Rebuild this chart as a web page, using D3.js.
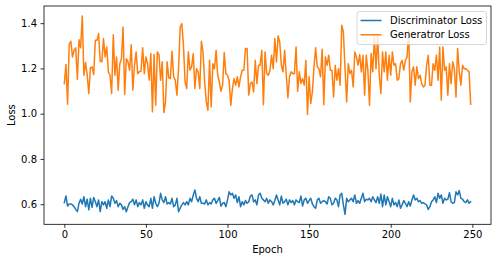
<!DOCTYPE html>
<html>
<head>
<meta charset="utf-8">
<script src="https://cdn.jsdelivr.net/npm/d3@7"></script>
<style>
  body { margin: 0; background: #fff; }
  svg { display: block; font-family: "DejaVu Sans", sans-serif; }
</style>
</head>
<body>
<svg id="chart" width="497" height="262"></svg>
<script>
// values, one per epoch (0..249)
var discLoss = [
    0.607, 0.636, 0.592, 0.601, 0.601, 0.597, 0.589, 0.577, 0.567, 0.604,
    0.622, 0.601, 0.633, 0.589, 0.622, 0.575, 0.626, 0.586, 0.630, 0.611,
    0.589, 0.619, 0.567, 0.611, 0.597, 0.611, 0.582, 0.619, 0.589, 0.636,
    0.626, 0.604, 0.616, 0.589, 0.604, 0.597, 0.577, 0.589, 0.567, 0.589,
    0.607, 0.611, 0.622, 0.597, 0.619, 0.589, 0.607, 0.597, 0.619, 0.582,
    0.611, 0.597, 0.589, 0.626, 0.582, 0.633, 0.604, 0.589, 0.604, 0.648,
    0.619, 0.607, 0.633, 0.601, 0.607, 0.601, 0.626, 0.589, 0.597, 0.626,
    0.567, 0.582, 0.597, 0.607, 0.597, 0.611, 0.597, 0.626, 0.611, 0.640,
    0.663, 0.626, 0.611, 0.633, 0.604, 0.604, 0.601, 0.619, 0.597, 0.607,
    0.601, 0.619, 0.626, 0.604, 0.616, 0.630, 0.592, 0.604, 0.607, 0.589,
    0.619, 0.655, 0.641, 0.648, 0.626, 0.641, 0.607, 0.633, 0.589, 0.611,
    0.597, 0.616, 0.604, 0.611, 0.636, 0.641, 0.611, 0.619, 0.597, 0.641,
    0.648, 0.626, 0.619, 0.611, 0.626, 0.604, 0.619, 0.611, 0.597, 0.616,
    0.641, 0.619, 0.597, 0.636, 0.604, 0.611, 0.622, 0.597, 0.619, 0.607,
    0.616, 0.597, 0.619, 0.611, 0.607, 0.636, 0.592, 0.619, 0.626, 0.604,
    0.616, 0.626, 0.601, 0.589, 0.582, 0.619, 0.626, 0.604, 0.611, 0.616,
    0.611, 0.601, 0.633, 0.626, 0.597, 0.604, 0.626, 0.619, 0.589, 0.641,
    0.648, 0.597, 0.555, 0.626, 0.611, 0.619, 0.626, 0.611, 0.641, 0.604,
    0.616, 0.604, 0.626, 0.648, 0.611, 0.622, 0.619, 0.626, 0.611, 0.633,
    0.619, 0.607, 0.633, 0.604, 0.645, 0.589, 0.641, 0.597, 0.633, 0.611,
    0.589, 0.626, 0.597, 0.607, 0.589, 0.619, 0.582, 0.597, 0.616, 0.604,
    0.589, 0.611, 0.592, 0.619, 0.641, 0.619, 0.626, 0.611, 0.616, 0.604,
    0.607, 0.601, 0.597, 0.577, 0.589, 0.611, 0.619, 0.633, 0.607, 0.648,
    0.626, 0.641, 0.604, 0.626, 0.619, 0.622, 0.651, 0.611, 0.604, 0.607,
    0.655, 0.641, 0.660, 0.626, 0.622, 0.611, 0.607, 0.619, 0.604, 0.611
];

var genLoss = [
    1.133, 1.217, 1.042, 1.305, 1.320, 1.251, 1.280, 1.291, 1.152, 1.327,
    1.291, 1.432, 1.170, 1.226, 1.173, 1.089, 1.202, 1.207, 1.173, 1.324,
    1.324, 1.354, 1.232, 1.229, 1.332, 1.251, 1.295, 1.185, 1.170, 1.089,
    1.349, 1.170, 1.251, 1.104, 1.221, 1.243, 1.383, 1.085, 1.243, 1.229,
    1.192, 1.305, 1.104, 1.214, 1.273, 1.177, 1.185, 1.188, 1.291, 1.177,
    1.251, 1.221, 1.148, 1.266, 1.008, 1.261, 1.037, 1.273, 1.261, 1.148,
    1.229, 1.005, 1.052, 1.229, 1.158, 1.155, 1.276, 1.163, 1.148, 1.082,
    1.199, 1.383, 1.398, 1.302, 1.140, 1.111, 1.273, 1.192, 1.207, 1.266,
    1.111, 1.199, 1.185, 1.111, 1.320, 1.273, 1.140, 1.052, 1.015, 1.236,
    1.030, 1.221, 1.199, 1.280, 1.170, 1.140, 1.099, 1.126, 1.270, 1.177,
    1.170, 1.148, 1.037, 1.111, 1.155, 1.126, 1.163, 1.118, 1.163, 1.192,
    1.192, 1.288, 1.288, 1.082, 1.133, 1.140, 1.096, 1.236, 1.133, 1.214,
    1.214, 1.280, 1.040, 1.273, 1.177, 1.170, 1.192, 1.258, 1.199, 1.332,
    1.229, 1.344, 1.317, 1.214, 1.185, 1.280, 1.170, 1.070, 1.163, 1.185,
    1.177, 1.177, 1.295, 1.099, 1.185, 1.133, 1.155, 1.126, 1.236, 0.996,
    1.163, 1.045, 1.096, 1.207, 1.291, 1.207, 1.199, 1.163, 1.285, 1.040,
    1.251, 1.214, 1.258, 1.192, 1.192, 1.074, 1.214, 1.148, 1.199, 1.126,
    1.391, 1.361, 1.199, 1.052, 1.221, 1.177, 1.192, 1.118, 1.273, 1.251,
    1.214, 1.261, 1.185, 1.258, 1.082, 1.258, 1.192, 1.037, 1.266, 1.185,
    1.339, 1.199, 1.347, 1.170, 1.089, 1.273, 1.185, 1.273, 1.148, 1.258,
    1.170, 1.273, 1.214, 1.221, 1.148, 1.155, 1.221, 1.236, 1.192, 1.236,
    1.250, 1.370, 1.052, 1.185, 1.207, 1.126, 1.207, 1.155, 1.170, 1.133,
    1.118, 1.126, 1.214, 1.258, 1.126, 1.126, 1.221, 1.192, 1.258, 1.148,
    1.295, 1.060, 1.295, 1.192, 1.207, 1.082, 1.221, 1.133, 1.229, 1.199,
    1.074, 1.288, 1.185, 1.126, 1.214, 1.199, 1.199, 1.192, 1.185, 1.042
];

var xTicks = [0, 50, 100, 150, 200, 250];
var yTicks = [0.6, 0.8, 1.0, 1.2, 1.4];
var seriesNames = ['Discriminator Loss', 'Generatror Loss'];
var seriesColors = ['#1f77b4', '#ff7f0e'];

var svg = d3.select('#chart');
var plot = { left: 44, right: 491, top: 6, bottom: 224.3 };

// matplotlib style 5% margins around the data
var n = genLoss.length;
var xPad = (n - 1) * 0.05;
var x = d3.scaleLinear()
    .domain([-xPad, n - 1 + xPad])
    .range([plot.left, plot.right]);

var allVals = discLoss.concat(genLoss);
var lo = d3.min(allVals), hi = d3.max(allVals);
var yPad = (hi - lo) * 0.05;
var y = d3.scaleLinear()
    .domain([lo - yPad, hi + yPad])
    .range([plot.bottom, plot.top]);

var line = d3.line()
    .x(function(d, i) { return x(i); })
    .y(function(d) { return y(d); });

svg.append('defs').append('clipPath').attr('id', 'clip')
    .append('rect')
    .attr('x', plot.left).attr('y', plot.top)
    .attr('width', plot.right - plot.left)
    .attr('height', plot.bottom - plot.top);

var lines = svg.append('g').attr('clip-path', 'url(#clip)');
[discLoss, genLoss].forEach(function(series, k) {
    lines.append('path')
        .datum(series)
        .attr('fill', 'none')
        .attr('stroke', seriesColors[k])
        .attr('stroke-width', 1.5)
        .attr('stroke-linejoin', 'round')
        .attr('stroke-linecap', 'square')
        .attr('d', line);
});

// axes
var xAxis = svg.append('g')
    .attr('transform', 'translate(0,' + plot.bottom + ')')
    .call(d3.axisBottom(x).tickValues(xTicks).tickSize(3.5).tickPadding(3.5).tickFormat(d3.format('d')));
var yAxis = svg.append('g')
    .attr('transform', 'translate(' + plot.left + ',0)')
    .call(d3.axisLeft(y).tickValues(yTicks).tickSize(3.5).tickPadding(3.5).tickFormat(d3.format('.1f')));

[xAxis, yAxis].forEach(function(a) {
    a.select('.domain').remove();
    a.selectAll('.tick line').attr('stroke', '#000').attr('stroke-width', 0.8);
    a.selectAll('.tick text')
        .attr('fill', '#000')
        .style('font-size', '10px')
        .style('font-family', '"DejaVu Sans", sans-serif');
});

svg.append('rect')
    .attr('x', plot.left).attr('y', plot.top)
    .attr('width', plot.right - plot.left)
    .attr('height', plot.bottom - plot.top)
    .attr('fill', 'none')
    .attr('stroke', '#000')
    .attr('stroke-width', 0.8);

svg.append('text')
    .attr('x', (plot.left + plot.right) / 2)
    .attr('y', 253)
    .attr('text-anchor', 'middle')
    .style('font-size', '10px')
    .text('Epoch');

svg.append('text')
    .attr('transform', 'translate(15,' + (plot.top + plot.bottom) / 2 + ') rotate(-90)')
    .attr('text-anchor', 'middle')
    .style('font-size', '10px')
    .text('Loss');

// legend, upper right
var legend = svg.append('g');
legend.append('rect')
    .attr('x', 357).attr('y', 11.5)
    .attr('width', 129.5).attr('height', 33)
    .attr('rx', 2.5)
    .attr('fill', '#fff').attr('fill-opacity', 0.8)
    .attr('stroke', '#ccc').attr('stroke-width', 0.8);

seriesNames.forEach(function(name, k) {
    var ly = 20.5 + k * 14.3;
    legend.append('line')
        .attr('x1', 360.5).attr('x2', 381.5)
        .attr('y1', ly).attr('y2', ly)
        .attr('stroke', seriesColors[k])
        .attr('stroke-width', 1.5);
    legend.append('text')
        .attr('x', 390)
        .attr('y', ly)
        .attr('dy', '0.36em')
        .style('font-size', '10px')
        .text(name);
});
</script>
</body>
</html>
